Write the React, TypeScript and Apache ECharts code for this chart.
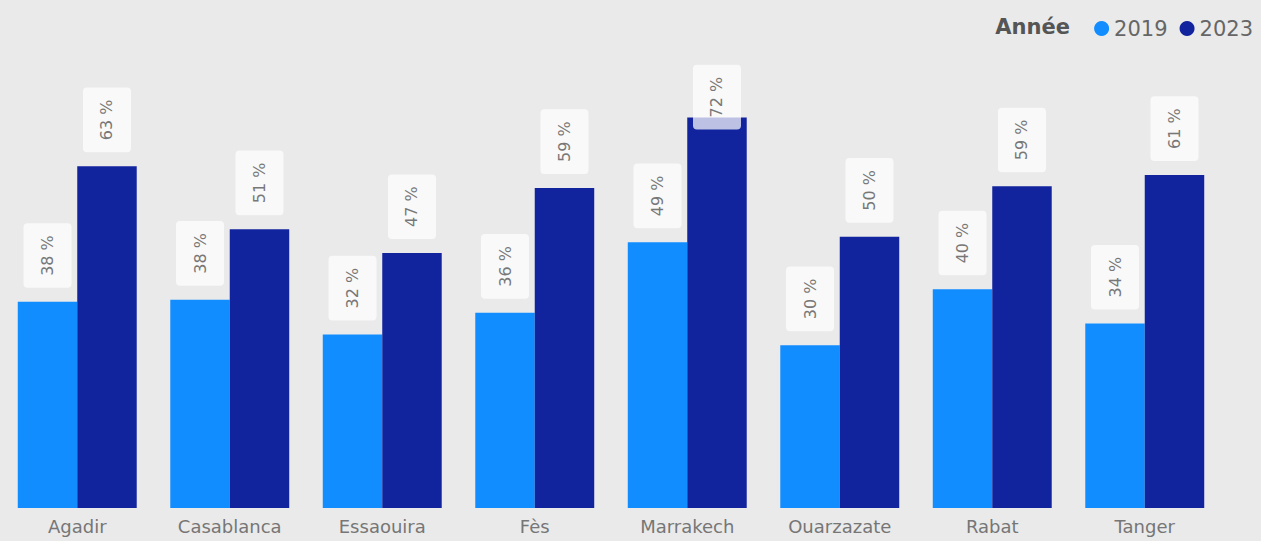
import React, { useEffect, useRef } from "react";
import * as echarts from "echarts";

const categories = ["Agadir", "Casablanca", "Essaouira", "Fès", "Marrakech", "Ouarzazate", "Rabat", "Tanger"];
const values2019 = [38, 38.4, 32, 36, 49, 30, 40.3, 34];
const values2023 = [63, 51.4, 47, 59, 72, 50, 59.3, 61.4];
const seriesNames = ["2019", "2023"];
const legendTitle = "Année";

const FONT = "'DejaVu Sans', 'Open Sans', sans-serif";

function makeLabel(distance: number) {
  return {
    show: true,
    position: "top",
    rotate: 90,
    align: "left",
    verticalAlign: "middle",
    distance,
    formatter: (p: any) => `${Math.round(p.value)} %`,
    color: "#777777",
    fontFamily: FONT,
    fontSize: 16,
    backgroundColor: "rgba(255,255,255,0.72)",
    borderRadius: 4,
    padding: [16, 12],
  };
}

export default function App() {
  const ref = useRef<HTMLDivElement>(null);
  useEffect(() => {
    document.body.style.margin = "0";
    const chart = echarts.init(ref.current!, null, { renderer: "svg" });
    const maxVal = Math.max(...values2023);
    const data2023 = values2023.map((v) =>
      v === maxVal ? { value: v, label: makeLabel(-12) } : v
    );
    chart.setOption({
      animation: false,
      backgroundColor: "#eaeaea",
      textStyle: { fontFamily: FONT },
      graphic: [
        {
          type: "text",
          right: 191,
          top: 16,
          style: {
            text: legendTitle,
            fontFamily: FONT,
            fontSize: 21,
            fontWeight: "bold",
            fill: "#555555",
          },
        },
      ],
      legend: {
        right: 3,
        top: 13,
        icon: "circle",
        itemWidth: 15,
        itemHeight: 15,
        itemGap: 12,
        data: seriesNames,
        textStyle: { color: "#666666", fontSize: 21, fontFamily: FONT },
      },
      grid: { left: 1, right: 40, top: 74, bottom: 33 },
      xAxis: {
        type: "category",
        data: categories,
        axisLine: { show: false },
        axisTick: { show: false },
        axisLabel: { color: "#767676", fontSize: 18, fontFamily: FONT, margin: 9 },
      },
      yAxis: {
        type: "value",
        min: 0,
        max: 80,
        show: false,
        splitLine: { show: false },
      },
      series: [
        {
          name: seriesNames[0],
          type: "bar",
          data: values2019,
          itemStyle: { color: "#118DFF" },
          barGap: "0%",
          barCategoryGap: "22%",
          label: makeLabel(14),
        },
        {
          name: seriesNames[1],
          type: "bar",
          data: data2023,
          itemStyle: { color: "#12239E" },
          barGap: "0%",
          barCategoryGap: "22%",
          label: makeLabel(14),
        },
      ],
    });
    return () => chart.dispose();
  }, []);
  return <div ref={ref} style={{ position: "absolute", left: 0, top: 0, width: 1261, height: 541 }} />;
}
